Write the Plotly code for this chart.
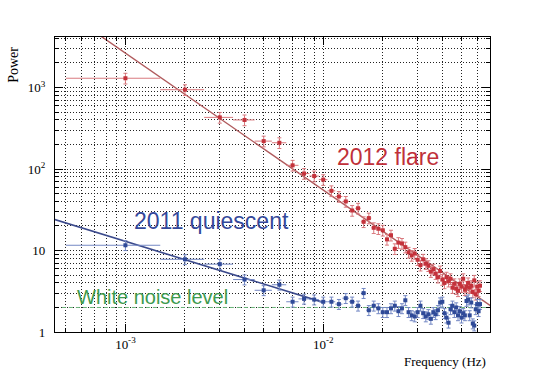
import plotly.graph_objects as go

# frequency bins (Hz), 1 mHz wide
freq = [k * 1e-3 for k in range(1, 63)]

flare_power = [1300, 940, 430, 400, 220, 210, 111, 88, 82, 74,
               54, 46, 40, 31, 33, 22.5, 25, 19, 18.5, 17.7,
               13.7, 15.4, 10.5, 12.5, 12.2, 11, 9.5, 8.7, 9.2, 7.7,
               6.6, 7.8, 6.9, 6.5, 5.5, 5.9, 5.2, 4.7, 5.6, 4.4,
               4.0, 4.7, 4.2, 4.5, 3.5, 3.9, 3.4, 3.2, 3.9, 3.6,
               4.5, 3.3, 3.6, 4.0, 3.5, 3.7, 3.1, 4.3, 2.9, 3.6,
               3.2, 3.7]

quiet_power = [11.6, 7.8, 6.8, 4.4, 3.25, 3.8, 2.35, 2.55, 2.5, 2.35,
               2.35, 2.2, 2.6, 2.35, 2.1, 3.0, 1.85, 2.1, 1.95, 1.75,
               1.75, 1.95, 2.1, 1.8, 1.95, 2.45, 1.75, 1.6, 1.55, 1.75,
               2.1, 1.7, 1.55, 1.65, 1.45, 1.75, 1.65, 1.85, 2.3, 2.35,
               1.7, 1.5, 1.3, 1.9, 2.1, 1.75, 2.0, 1.6, 1.8, 1.5,
               1.7, 1.6, 2.4, 2.5, 1.6, 2.3, 1.27, 1.2, 1.9, 2.2,
               1.8, 2.2]

# power-law fits (end points)
flare_fit_f = [5e-4, 0.07]
flare_fit_p = [8470, 2.1]
quiet_fit_f = [4.4e-4, 0.01]
quiet_fit_p = [24, 2.31]

noise_f = [4.4e-4, 0.07]
noise_p = [2, 2]

red = "#c4323b"
blue = "#2f4a98"

fig = go.Figure()

fig.add_trace(go.Scatter(x=noise_f, y=noise_p, mode="lines",
                         line=dict(color="#6bb57a", width=1, dash="4px,3px")))

fig.add_trace(go.Scatter(x=flare_fit_f, y=flare_fit_p, mode="lines",
                         line=dict(color="#b05a5c", width=1.4)))
fig.add_trace(go.Scatter(x=quiet_fit_f, y=quiet_fit_p, mode="lines",
                         line=dict(color="#3b4a8c", width=1.6)))

fig.add_trace(go.Scatter(
    x=freq, y=flare_power, mode="markers",
    marker=dict(symbol="square", size=4, color=red),
    error_x=dict(type="constant", value=0.0005, color="#d9797e", thickness=1, width=0),
    error_y=dict(type="percent", value=15, color="#d9797e", thickness=1, width=2)))

fig.add_trace(go.Scatter(
    x=freq, y=quiet_power, mode="markers",
    marker=dict(symbol="square", size=4, color=blue),
    error_x=dict(type="constant", value=0.0005, color="#7488c4", thickness=1, width=0),
    error_y=dict(type="percent", value=14, color="#7488c4", thickness=1, width=2)))

grid_dash = "1px,2px"
axis_common = dict(
    showline=True, linecolor="black", linewidth=1.2, mirror="allticks",
    ticks="inside", ticklen=8, tickcolor="black",
    showgrid=True, gridcolor="#222222", griddash=grid_dash, gridwidth=0.7,
    zeroline=False, automargin=False,
    tickfont=dict(family="Liberation Serif", size=13, color="black"),
    minor=dict(dtick="D1", ticks="inside", ticklen=4, tickcolor="black",
               showgrid=True, gridcolor="#222222", griddash=grid_dash, gridwidth=0.7),
)

fig.update_xaxes(type="log", range=[-3.356, -1.157],
                 tickvals=[1e-3, 1e-2],
                 ticktext=["10<sup>-3</sup>", "10<sup>-2</sup>"],
                 **axis_common)
fig.update_yaxes(type="log", range=[0, 3.62],
                 tickvals=[1, 10, 100, 1000],
                 ticktext=["1", "10", "10<sup>2</sup>", "10<sup>3</sup>"],
                 ticklabelstandoff=6,
                 **axis_common)

labels = [
    ("2012 flare", 0.766, 0.593, 23, "#c0303a", "Liberation Sans", 0, "center"),
    ("2011 quiescent", 0.36, 0.375, 23, "#34489a", "Liberation Sans", 0, "center"),
    ("White noise level", 0.224, 0.12, 20, "#3d9a4e", "Liberation Sans", 0, "center"),
    ("Power", -0.097, 0.905, 14, "black", "Liberation Serif", -90, "center"),
    ("Frequency (Hz)", 0.995, -0.1, 13, "black", "Liberation Serif", 0, "right"),
]
for text, x, y, size, color, family, angle, xanchor in labels:
    fig.add_annotation(text=text, xref="paper", yref="paper", x=x, y=y,
                       xanchor=xanchor, yanchor="middle", textangle=angle,
                       showarrow=False,
                       font=dict(family=family, size=size, color=color))

fig.update_layout(width=545, height=369, showlegend=False,
                  margin=dict(l=55, r=55, t=37, b=37),
                  paper_bgcolor="white", plot_bgcolor="white")

fig.write_html("out.html", config={"displayModeBar": False},
               post_script="document.body.style.margin='0';")
